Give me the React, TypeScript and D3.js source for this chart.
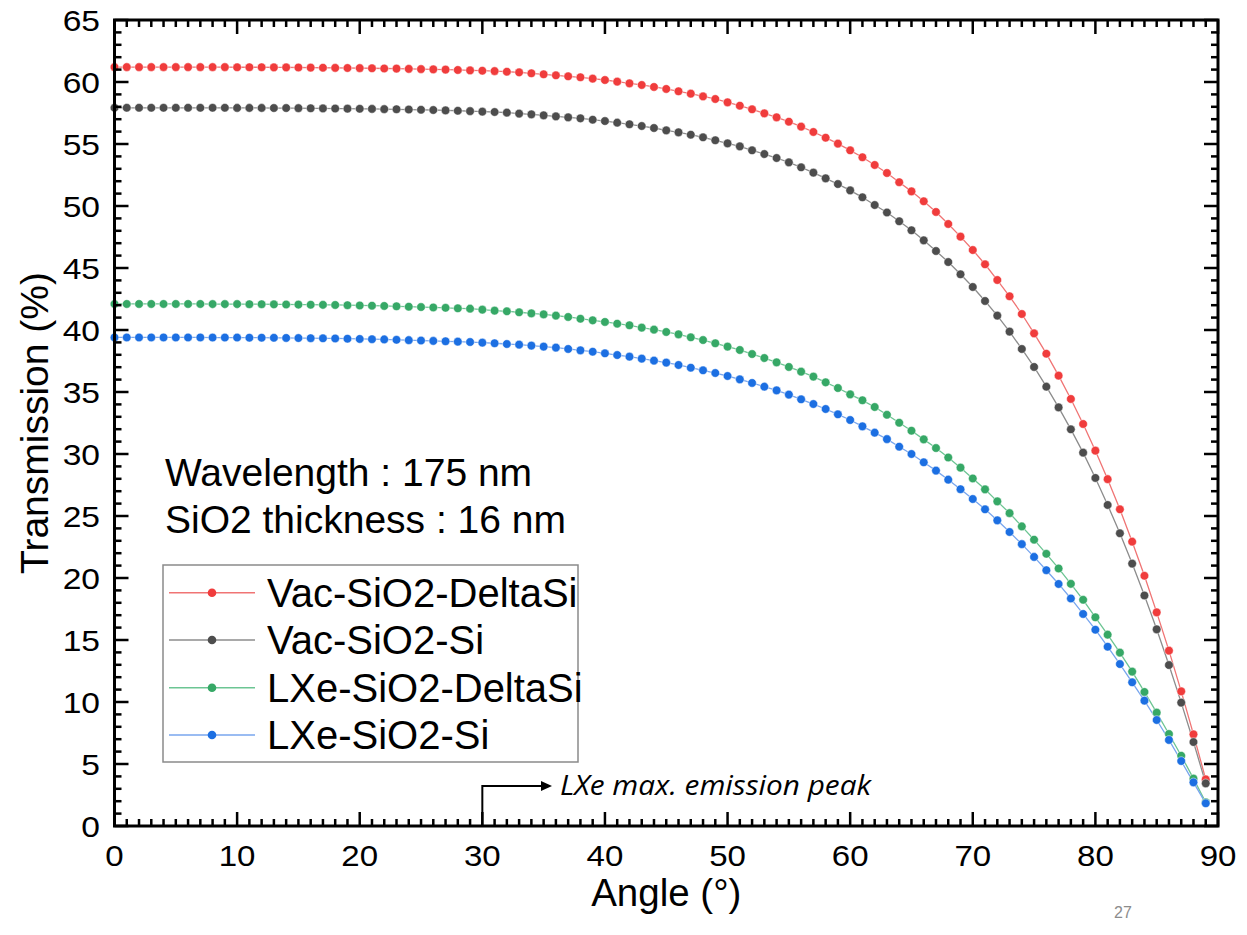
import React from "react";
import * as d3 from "d3";

const angles: number[] = d3.range(0, 90);

const vacDeltaSi: number[] = [
  61.2, 61.2, 61.2, 61.2, 61.2, 61.2, 61.2, 61.2, 61.2, 61.2,
  61.19, 61.19, 61.19, 61.18, 61.18, 61.17, 61.16, 61.15, 61.14, 61.13,
  61.12, 61.11, 61.09, 61.08, 61.06, 61.04, 61.02, 61.0, 60.97, 60.94,
  60.91, 60.88, 60.83, 60.78, 60.7, 60.62, 60.54, 60.46, 60.38, 60.27,
  60.16, 60.03, 59.89, 59.76, 59.6, 59.44, 59.25, 59.06, 58.84, 58.63,
  58.36, 58.09, 57.8, 57.47, 57.15, 56.8, 56.4, 55.97, 55.51, 55.03,
  54.49, 53.93, 53.31, 52.66, 51.92, 51.18, 50.38, 49.52, 48.55, 47.53,
  46.45, 45.3, 44.03, 42.72, 41.29, 39.73, 38.09, 36.32, 34.44, 32.42,
  30.27, 27.97, 25.54, 22.93, 20.18, 17.23, 14.14, 10.86, 7.39, 3.76,
];

const vacSi: number[] = [
  57.92, 57.92, 57.92, 57.92, 57.92, 57.92, 57.92, 57.92, 57.92, 57.92,
  57.91, 57.91, 57.91, 57.9, 57.9, 57.89, 57.88, 57.87, 57.86, 57.85,
  57.84, 57.83, 57.81, 57.8, 57.78, 57.76, 57.74, 57.71, 57.68, 57.65,
  57.61, 57.58, 57.53, 57.45, 57.39, 57.31, 57.23, 57.15, 57.07, 56.96,
  56.85, 56.72, 56.59, 56.45, 56.29, 56.1, 55.94, 55.75, 55.54, 55.3,
  55.05, 54.81, 54.49, 54.19, 53.87, 53.52, 53.12, 52.69, 52.23, 51.77,
  51.26, 50.7, 50.08, 49.48, 48.77, 48.04, 47.23, 46.37, 45.48, 44.49,
  43.47, 42.34, 41.16, 39.87, 38.47, 37.02, 35.43, 33.76, 31.99, 30.11,
  28.07, 25.89, 23.61, 21.16, 18.59, 15.86, 12.98, 9.95, 6.77, 3.44,
];

const lxeDeltaSi: number[] = [
  42.1, 42.1, 42.1, 42.1, 42.1, 42.1, 42.1, 42.1,
  42.09, 42.09, 42.09, 42.08, 42.08, 42.07, 42.06, 42.05, 42.04, 42.03,
  42.02, 42.0, 41.98, 41.96, 41.94, 41.91, 41.88, 41.85, 41.82, 41.79,
  41.75, 41.72, 41.64, 41.56, 41.51, 41.43, 41.34, 41.26, 41.16, 41.05,
  40.91, 40.78, 40.65, 40.51, 40.38, 40.19, 40.03, 39.84, 39.65, 39.41,
  39.19, 38.93, 38.66, 38.39, 38.06, 37.74, 37.39, 37.02, 36.64, 36.24,
  35.78, 35.32, 34.81, 34.33, 33.79, 33.16, 32.52, 31.88, 31.18, 30.48,
  29.72, 28.9, 28.03, 27.15, 26.18, 25.23, 24.16, 23.09, 21.95, 20.77,
  19.53, 18.24, 16.83, 15.43, 13.98, 12.45, 10.81, 9.14, 7.42, 5.67, 3.82, 1.91,
];

const lxeSi: number[] = [
  39.4, 39.4, 39.4, 39.4, 39.4, 39.4, 39.4, 39.4,
  39.39, 39.39, 39.39, 39.38, 39.38, 39.37, 39.36, 39.35, 39.34, 39.33,
  39.32, 39.3, 39.28, 39.26, 39.24, 39.21, 39.18, 39.15, 39.12, 39.09,
  39.06, 39.03, 38.98, 38.93, 38.87, 38.82, 38.74, 38.66, 38.58, 38.47,
  38.36, 38.25, 38.12, 37.98, 37.85, 37.69, 37.53, 37.37, 37.18, 36.96,
  36.75, 36.53, 36.29, 36.02, 35.73, 35.43, 35.13, 34.79, 34.41, 34.03,
  33.63, 33.2, 32.74, 32.23, 31.72, 31.2, 30.59, 30.0, 29.33, 28.66,
  27.93, 27.16, 26.37, 25.54, 24.65, 23.71, 22.73, 21.7, 20.63, 19.52,
  18.35, 17.1, 15.83, 14.46, 13.06, 11.59, 10.11, 8.55, 6.94, 5.24, 3.52, 1.83,
];

const seriesNames: string[] = [
  "Vac-SiO2-DeltaSi",
  "Vac-SiO2-Si",
  "LXe-SiO2-DeltaSi",
  "LXe-SiO2-Si",
];
const seriesValues: number[][] = [vacDeltaSi, vacSi, lxeDeltaSi, lxeSi];
const dotColors: string[] = ["#F03C3C", "#4D4D4D", "#36A866", "#1C6FE2"];
const lineColors: string[] = ["#F07474", "#8C8C8C", "#6CC593", "#78A6EE"];

const xTickLabels: number[] = [0, 10, 20, 30, 40, 50, 60, 70, 80, 90];
const yTickLabels: number[] = [0, 5, 10, 15, 20, 25, 30, 35, 40, 45, 50, 55, 60, 65];
const xMinor: number[] = d3.range(0, 91, 1);
const yMinor: number[] = d3.range(0, 66, 1);

const infoLines: string[] = ["Wavelength : 175 nm", "SiO2 thickness : 16 nm"];
const annotationText = "LXe max. emission peak";
const annotationAngle = 30;

const FONT = "'Liberation Sans', Arial, sans-serif";

export default function App() {
  const W = 1247;
  const H = 935;
  const left = 114.5;
  const right = 1218;
  const top = 20;
  const bottom = 826;

  const x = d3.scaleLinear().domain([0, 90]).range([left, right]);
  const y = d3.scaleLinear().domain([0, 65]).range([bottom, top]);

  const line = d3
    .line<number>()
    .x((_, i) => x(angles[i]))
    .y((d) => y(d));

  const legendX = 163;
  const legendY = 565;
  const legendW = 415;
  const legendH = 197;
  const legendRows = [592.7, 640, 687.7, 735];

  const arrowX = x(annotationAngle);
  const arrowTopY = 786;

  return (
    <svg
      width={W}
      height={H}
      style={{ position: "absolute", left: 0, top: 0, background: "#fff" }}
      fontFamily={FONT}
    >
      <rect x={0} y={0} width={W} height={H} fill="#fff" />
      <defs>
        <clipPath id="plotClip">
          <rect x={left - 6} y={top - 6} width={right - left + 12} height={bottom - top + 12} />
        </clipPath>
      </defs>

      {/* series lines */}
      <g clipPath="url(#plotClip)">
        {seriesValues.map((vals, si) => (
          <path
            key={"l" + si}
            d={line(vals) || ""}
            fill="none"
            stroke={lineColors[si]}
            strokeWidth={1.3}
          />
        ))}
        {seriesValues.map((vals, si) => (
          <g key={"p" + si}>
            {vals.map((v, i) => (
              <circle
                key={i}
                cx={x(angles[i])}
                cy={y(v)}
                r={4.3}
                fill={dotColors[si]}
                stroke="#fff"
                strokeWidth={0.6}
                strokeOpacity={0.8}
              />
            ))}
          </g>
        ))}
      </g>

      {/* frame */}
      <rect
        x={left}
        y={top}
        width={right - left}
        height={bottom - top}
        fill="none"
        stroke="#000"
        strokeWidth={3}
      />

      {/* x ticks bottom & top */}
      {xMinor.map((t) => {
        const major = t % 10 === 0;
        const len = major ? 14 : 7;
        return (
          <g key={"xt" + t} stroke="#000" strokeWidth={2.5}>
            <line x1={x(t)} x2={x(t)} y1={bottom} y2={bottom - len} />
            <line x1={x(t)} x2={x(t)} y1={top} y2={top + len} />
          </g>
        );
      })}
      {/* y ticks left & right */}
      {yMinor.map((t) => {
        const major = t % 5 === 0;
        const len = major ? 14 : 7;
        return (
          <g key={"yt" + t} stroke="#000" strokeWidth={2.5}>
            <line x1={left} x2={left + len} y1={y(t)} y2={y(t)} />
            <line x1={right} x2={right - len} y1={y(t)} y2={y(t)} />
          </g>
        );
      })}

      {/* tick labels */}
      {xTickLabels.map((t) => (
        <g key={"xl" + t} transform={`translate(${x(t)},866) scale(1.14,1)`}>
          <text textAnchor="middle" fontSize={29} fill="#000">
            {t}
          </text>
        </g>
      ))}
      {yTickLabels.map((t) => (
        <g key={"yl" + t} transform={`translate(100,${y(t) + 10.5}) scale(1.12,1)`}>
          <text textAnchor="end" fontSize={30} fill="#000">
            {t}
          </text>
        </g>
      ))}

      {/* axis titles */}
      <text x={(left + right) / 2} y={906} textAnchor="middle" fontSize={38.5} fill="#000">
        Angle (°)
      </text>
      <text
        transform={`translate(48,${(top + bottom) / 2}) rotate(-90)`}
        textAnchor="middle"
        fontSize={39}
        fill="#000"
      >
        Transmission (%)
      </text>

      {/* info text */}
      {infoLines.map((s, i) => (
        <text key={"info" + i} x={165} y={486 + i * 47} fontSize={39} fill="#000">
          {s}
        </text>
      ))}

      {/* legend */}
      <rect
        x={legendX}
        y={legendY}
        width={legendW}
        height={legendH}
        fill="#fff"
        stroke="#8a8a8a"
        strokeWidth={1.5}
      />
      {seriesNames.map((name, i) => (
        <g key={"lg" + i}>
          <line
            x1={169}
            x2={255}
            y1={legendRows[i]}
            y2={legendRows[i]}
            stroke={lineColors[i]}
            strokeWidth={1.5}
          />
          <circle cx={212} cy={legendRows[i]} r={4.3} fill={dotColors[i]} />
          <text x={267} y={legendRows[i] + 14} fontSize={40} fill="#000">
            {name}
          </text>
        </g>
      ))}

      {/* annotation arrow */}
      <polyline
        points={`${arrowX},${bottom} ${arrowX},${arrowTopY} ${543},${arrowTopY}`}
        fill="none"
        stroke="#000"
        strokeWidth={2}
      />
      <path d={`M552,${arrowTopY} L541,${arrowTopY - 5} L541,${arrowTopY + 5} Z`} fill="#000" />
      <text
        x={560}
        y={795}
        fontSize={27}
        fontStyle="italic"
        fontFamily="'Open Sans', 'Noto Sans', sans-serif"
        textLength={311}
        lengthAdjust="spacingAndGlyphs"
        fill="#000"
      >
        {annotationText}
      </text>

      {/* page number */}
      <text x={1123} y={918} fontSize={16} fill="#8c8c8c" textAnchor="middle">
        27
      </text>
    </svg>
  );
}
